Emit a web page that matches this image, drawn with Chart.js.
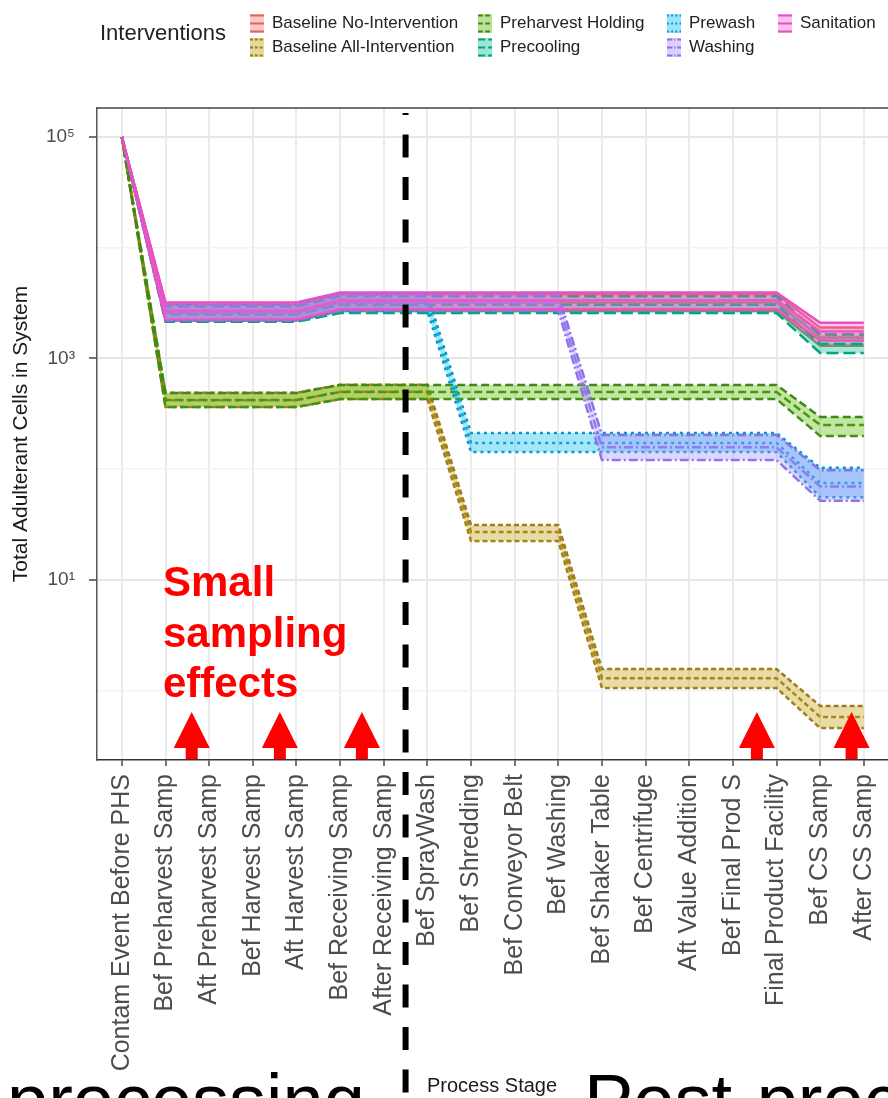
<!DOCTYPE html>
<html>
<head>
<meta charset="utf-8">
<title>Total Adulterant Cells in System by Process Stage</title>
<script src="https://cdn.jsdelivr.net/npm/chart.js@4.4.0/dist/chart.umd.min.js"></script>
<style>
  html, body { margin: 0; padding: 0; background: #fff; }
  body {
    width: 888px; height: 1098px; overflow: hidden; position: relative;
    font-family: "Liberation Sans", Arial, sans-serif;
  }
  #wrap { position: absolute; left: 0; top: 0; width: 940px; height: 1098px; }
  .abs { position: absolute; white-space: nowrap; }
  .leg-text { font-size: 17px; line-height: 20px; color: #222; }
  .leg-key { position: absolute; }
  #note { left: 163px; top: 557px; font-weight: bold; font-size: 42px; line-height: 50.5px; color: #ff0000; }
  .big { font-size: 74px; line-height: 74px; color: #000; top: 1064px; }
</style>
</head>
<body>
<div id="wrap"><canvas id="cellsChart" width="940" height="1098"></canvas></div>

<div id="legend"></div>
<div class="abs" style="left:100px; top:20px; font-size:22px; line-height:25px; color:#222;">Interventions</div>

<div id="note" class="abs">Small<br>sampling<br>effects</div>
<div class="abs big" style="left:7px;">processing</div>
<div class="abs" style="left:427px; top:1075px; font-size:20px; line-height:20px; color:#1a1a1a;">Process Stage</div>
<div class="abs big" style="left:584px;">Post-processing</div>

<script>
/* ── data ─────────────────────────────────────────────── */
const STAGES = [
  'Contam Event Before PHS', 'Bef Preharvest Samp', 'Aft Preharvest Samp',
  'Bef Harvest Samp', 'Aft Harvest Samp', 'Bef Receiving Samp',
  'After Receiving Samp', 'Bef SprayWash', 'Bef Shredding', 'Bef Conveyor Belt',
  'Bef Washing', 'Bef Shaker Table', 'Bef Centrifuge', 'Aft Value Addition',
  'Bef Final Prod S', 'Final Product Facility', 'Bef CS Samp', 'After CS Samp'
];

const INTERVENTIONS = [
  'Baseline No-Intervention', 'Baseline All-Intervention', 'Preharvest Holding',
  'Precooling', 'Prewash', 'Washing', 'Sanitation'
];

// upper / median / lower bound per intervention, one value per stage
const NOINT_HI  = [1e5, 3050, 3050, 3050, 3050, 3800, 3800, 3800, 3800, 3800, 3800, 3800, 3800, 3800, 3800, 3800, 1900, 1900];
const NOINT_MID = [1e5, 2600, 2600, 2600, 2600, 3200, 3200, 3200, 3200, 3200, 3200, 3200, 3200, 3200, 3200, 3200, 1550, 1550];
const NOINT_LO  = [1e5, 2200, 2200, 2200, 2200, 2700, 2700, 2700, 2700, 2700, 2700, 2700, 2700, 2700, 2700, 2700, 1300, 1300];

const ALLINT_HI  = [1e5, 490, 490, 490, 490, 580, 580, 580, 31.4, 31.4, 31.4, 1.57, 1.57, 1.57, 1.57, 1.57, 0.73, 0.73];
const ALLINT_MID = [1e5, 420, 420, 420, 420, 500, 500, 500, 27.1, 27.1, 27.1, 1.30, 1.30, 1.30, 1.30, 1.30, 0.58, 0.58];
const ALLINT_LO  = [1e5, 365, 365, 365, 365, 430, 430, 430, 22.5, 22.5, 22.5, 1.06, 1.06, 1.06, 1.06, 1.06, 0.46, 0.46];

const PHS_HI  = [1e5, 489, 489, 489, 489, 577, 577, 577, 577, 577, 577, 577, 577, 577, 577, 577, 297, 297];
const PHS_MID = [1e5, 422, 422, 422, 422, 498, 498, 498, 498, 498, 498, 498, 498, 498, 498, 498, 251, 251];
const PHS_LO  = [1e5, 365, 365, 365, 365, 430, 430, 430, 430, 430, 430, 430, 430, 430, 430, 430, 200, 200];

const PRECOOL_HI  = [1e5, 2950, 2950, 2950, 2950, 3650, 3650, 3650, 3650, 3650, 3650, 3650, 3650, 3650, 3650, 3650, 1650, 1650];
const PRECOOL_MID = [1e5, 2500, 2500, 2500, 2500, 3050, 3050, 3050, 3050, 3050, 3050, 3050, 3050, 3050, 3050, 3050, 1350, 1350];
const PRECOOL_LO  = [1e5, 2150, 2150, 2150, 2150, 2570, 2570, 2570, 2570, 2570, 2570, 2570, 2570, 2570, 2570, 2570, 1120, 1120];

const PREWASH_HI  = [1e5, 3050, 3050, 3050, 3050, 3800, 3800, 3800, 212, 212, 212, 212, 212, 212, 212, 212, 103, 103];
const PREWASH_MID = [1e5, 2600, 2600, 2600, 2600, 3200, 3200, 3200, 173, 173, 173, 173, 173, 173, 173, 173, 75, 75];
const PREWASH_LO  = [1e5, 2200, 2200, 2200, 2200, 2700, 2700, 2700, 143, 143, 143, 143, 143, 143, 143, 143, 56, 56];

const WASH_HI  = [1e5, 3050, 3050, 3050, 3050, 3800, 3800, 3800, 3800, 3800, 3800, 204, 204, 204, 204, 204, 98, 98];
const WASH_MID = [1e5, 2600, 2600, 2600, 2600, 3200, 3200, 3200, 3200, 3200, 3200, 158, 158, 158, 158, 158, 70, 70];
const WASH_LO  = [1e5, 2200, 2200, 2200, 2200, 2700, 2700, 2700, 2700, 2700, 2700, 121, 121, 121, 121, 121, 52, 52];

const SANIT_HI  = [1e5, 3200, 3200, 3200, 3200, 3950, 3950, 3950, 3950, 3950, 3950, 3950, 3950, 3950, 3950, 3950, 2100, 2100];
const SANIT_MID = [1e5, 2700, 2700, 2700, 2700, 3350, 3350, 3350, 3350, 3350, 3350, 3350, 3350, 3350, 3350, 3350, 1750, 1750];
const SANIT_LO  = [1e5, 2250, 2250, 2250, 2250, 2800, 2800, 2800, 2800, 2800, 2800, 2800, 2800, 2800, 2800, 2800, 1450, 1450];

const Y_TICKS = [1, 10, 100, 1000, 10000, 100000];
const Y_LABELS = ['', '10\u00B9', '', '10\u00B3', '', '10\u2075'];

const DIVIDER_AT = 6.5;                              // pre- / post-processing split
const ARROWS_AT = [1.6, 3.62, 5.5, 14.55, 16.72];    // "small sampling effects" markers

/* ── styles ───────────────────────────────────────────── */
const FILL_COLORS = ['#F8766D', '#C49A00', '#53B400', '#00C094', '#00B6EB', '#A58AFF', '#FB61D7'];
const LINE_COLORS = ['#E0625A', '#9A7D1E', '#3F8A10', '#00A07A', '#0098C8', '#8C70E8', '#E850C5'];
const DASHES = [[], [5, 3], [8, 4], [12, 5], [3, 4], [9, 3, 2, 3], []];
const FONT = '"Liberation Sans", Arial, sans-serif';

const SERIES = [
  [NOINT_HI, NOINT_MID, NOINT_LO],
  [ALLINT_HI, ALLINT_MID, ALLINT_LO],
  [PHS_HI, PHS_MID, PHS_LO],
  [PRECOOL_HI, PRECOOL_MID, PRECOOL_LO],
  [PREWASH_HI, PREWASH_MID, PREWASH_LO],
  [WASH_HI, WASH_MID, WASH_LO],
  [SANIT_HI, SANIT_MID, SANIT_LO]
];

function alpha(hex, a) {
  const n = parseInt(hex.slice(1), 16);
  return `rgba(${(n >> 16) & 255}, ${(n >> 8) & 255}, ${n & 255}, ${a})`;
}

/* ── legend (html) ────────────────────────────────────── */
function buildLegend() {
  const host = document.getElementById('legend');
  const colLeft = [250, 478, 667, 778];
  const rowTop = [13, 37];
  INTERVENTIONS.forEach((name, k) => {
    const col = k === 6 ? 3 : Math.floor(k / 2);
    const row = k === 6 ? 0 : k % 2;
    const key = document.createElement('canvas');
    key.width = 14; key.height = 19;
    key.className = 'leg-key';
    key.style.left = colLeft[col] + 'px';
    key.style.top = (rowTop[row] + 1) + 'px';
    const c = key.getContext('2d');
    c.fillStyle = alpha(FILL_COLORS[k], 0.4);
    c.fillRect(0, 0, 14, 19);
    c.strokeStyle = LINE_COLORS[k];
    c.lineWidth = 2;
    c.setLineDash(DASHES[k].map(d => d * 0.6));
    [1.5, 9.5, 17.5].forEach(y => {
      c.beginPath(); c.moveTo(0, y); c.lineTo(14, y); c.stroke();
    });
    host.appendChild(key);

    const label = document.createElement('div');
    label.className = 'abs leg-text';
    label.style.left = (colLeft[col] + 22) + 'px';
    label.style.top = rowTop[row] + 'px';
    label.textContent = name;
    host.appendChild(label);
  });
}

/* ── chart ────────────────────────────────────────────── */
const overlayPlugin = {
  id: 'overlay',
  afterDraw(chart) {
    const { ctx, chartArea, scales } = chart;
    ctx.save();

    // top panel border
    ctx.strokeStyle = '#444';
    ctx.lineWidth = 1.5;
    ctx.beginPath();
    ctx.moveTo(chartArea.left, chartArea.top);
    ctx.lineTo(chartArea.right, chartArea.top);
    ctx.stroke();

    // dashed divider
    const xd = scales.x.getPixelForValue(DIVIDER_AT);
    ctx.strokeStyle = '#000';
    ctx.lineWidth = 6;
    ctx.setLineDash([23, 19.5]);
    ctx.lineDashOffset = 21;
    ctx.beginPath();
    ctx.moveTo(xd, chartArea.top + 5);
    ctx.lineTo(xd, chart.height);
    ctx.stroke();
    ctx.setLineDash([]);

    // red arrows
    ctx.fillStyle = '#FF0000';
    const b = chartArea.bottom;
    ARROWS_AT.forEach(v => {
      const x = scales.x.getPixelForValue(v);
      ctx.beginPath();
      ctx.moveTo(x, b - 48);
      ctx.lineTo(x + 18, b - 12);
      ctx.lineTo(x + 6, b - 12);
      ctx.lineTo(x + 6, b - 1);
      ctx.lineTo(x - 6, b - 1);
      ctx.lineTo(x - 6, b - 12);
      ctx.lineTo(x - 18, b - 12);
      ctx.closePath();
      ctx.fill();
    });
    ctx.restore();
  }
};

function buildDatasets() {
  const out = [];
  SERIES.forEach((bands, k) => {
    bands.forEach((vals, j) => {
      out.push({
        label: INTERVENTIONS[k] + ' ' + ['upper', 'median', 'lower'][j],
        data: vals.map((v, i) => ({ x: i, y: v })),
        borderColor: LINE_COLORS[k],
        borderWidth: 2.5,
        borderDash: DASHES[k],
        backgroundColor: alpha(FILL_COLORS[k], 0.35),
        fill: j === 0 ? '+2' : false,
        pointRadius: 0,
        tension: 0,
        order: 6 - k
      });
    });
  });
  return out;
}

function isMajorY(v) {
  return Math.round(Math.log10(v)) % 2 === 1;
}

Chart.defaults.font.family = FONT;

new Chart(document.getElementById('cellsChart'), {
  type: 'line',
  data: { datasets: buildDatasets() },
  plugins: [overlayPlugin],
  options: {
    responsive: false,
    animation: false,
    layout: { padding: { top: 108, left: 0, right: 50, bottom: 0 } },
    plugins: { legend: { display: false }, tooltip: { enabled: false } },
    scales: {
      x: {
        type: 'linear',
        min: -0.57,
        max: 17.6,
        afterBuildTicks: s => { s.ticks = STAGES.map((_, i) => ({ value: i })); },
        afterFit: s => { s.height = 338; },
        ticks: {
          autoSkip: false,
          minRotation: 90,
          maxRotation: 90,
          padding: 8,
          color: '#4D4D4D',
          font: { size: 25 },
          callback: v => STAGES[v]
        },
        grid: { color: '#EBEBEB', lineWidth: 2, tickLength: 6, tickColor: '#444', tickWidth: 1.5 },
        border: { color: '#333', width: 1.5 }
      },
      y: {
        type: 'logarithmic',
        min: 0.237,
        max: 182700,
        afterBuildTicks: s => { s.ticks = Y_TICKS.map(v => ({ value: v })); },
        afterFit: s => { s.width = 97; },
        ticks: {
          padding: 14,
          color: '#4D4D4D',
          font: { size: 19 },
          callback: v => Y_LABELS[Y_TICKS.indexOf(v)]
        },
        grid: {
          color: c => (c.tick && isMajorY(c.tick.value)) ? '#E6E6E6' : '#F2F2F2',
          lineWidth: c => (c.tick && isMajorY(c.tick.value)) ? 2 : 1.5,
          tickLength: 8,
          tickColor: c => (c.tick && isMajorY(c.tick.value)) ? '#444' : 'rgba(0,0,0,0)',
          tickWidth: 1.5
        },
        border: { color: '#555', width: 1.5 },
        title: {
          display: true,
          text: 'Total Adulterant Cells in System',
          color: '#1a1a1a',
          font: { size: 21 },
          padding: { top: 9, bottom: 0 }
        }
      }
    }
  }
});

buildLegend();
</script>
</body>
</html>
